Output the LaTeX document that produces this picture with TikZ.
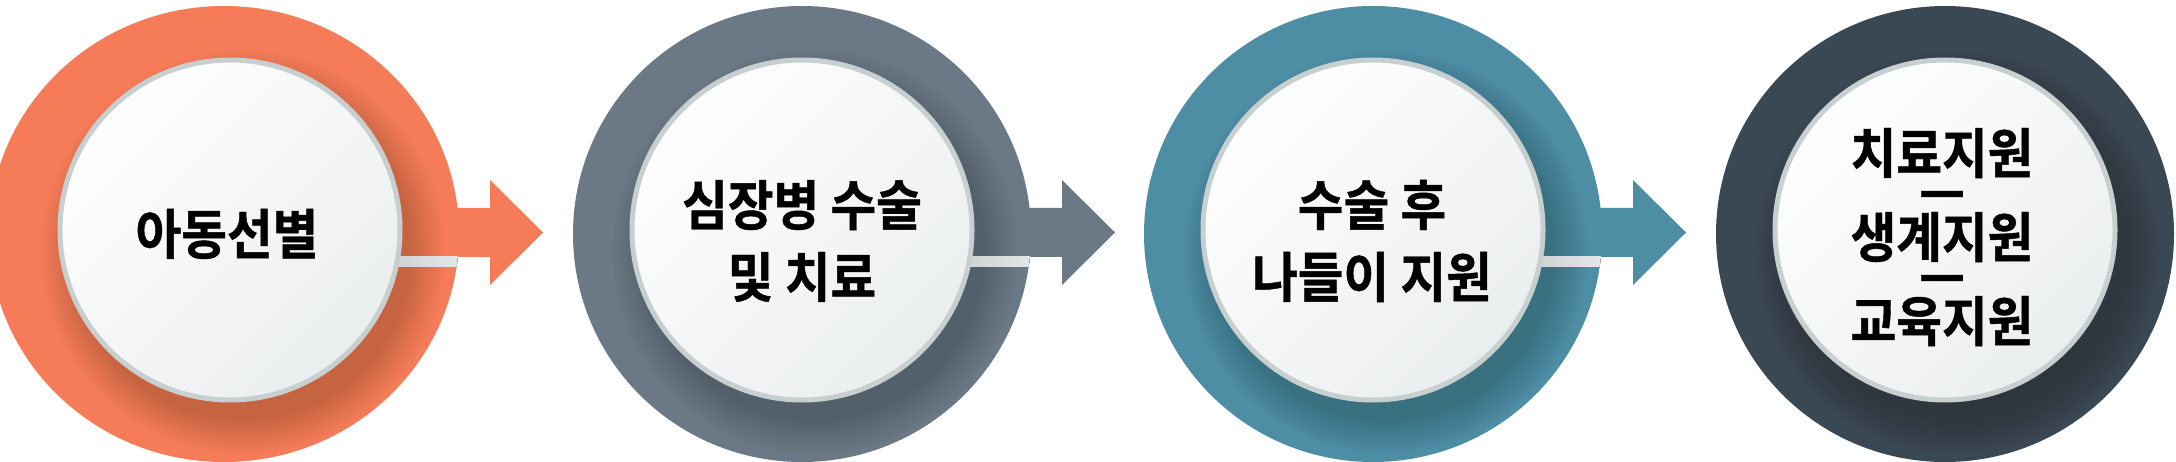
\documentclass[tikz,border=0pt]{standalone}
\usepackage{fontspec}
\newfontfamily\krbold{Noto Sans CJK KR Bold}[FakeStretch=0.92, FakeBold=0.8]
\definecolor{ringA}{RGB}{246,124,89}
\definecolor{ringB}{RGB}{107,120,133}
\definecolor{ringC}{RGB}{78,142,165}
\definecolor{ringD}{RGB}{58,72,84}
\definecolor{discA}{RGB}{254,254,254}
\definecolor{discB}{RGB}{235,238,239}
\definecolor{discrim}{RGB}{200,207,208}
\definecolor{stripA}{RGB}{198,203,204}
\definecolor{stripB}{RGB}{238,240,240}
\newcommand\tightlines{\lineskiplimit=-1000pt\relax\lineskip=0pt\relax}
\tikzset{
  disc/.style={circle, inner sep=0pt, minimum size=340pt, draw=discrim,
    line width=5pt, top color=discA, bottom color=discB, shading angle=45},
  stagetext/.style={align=center, text=black, inner sep=0pt,
    font=\krbold\fontsize{54}{72}\selectfont},
  stagetight/.style={font={\krbold\fontsize{54}{42}\selectfont\tightlines}},
  ringshadow/.style={fill=black, opacity=0.017},
  gapstrip/.style={left color=stripA, right color=stripB},
}
\newcommand\stageback[4]{% #1 colour, #2 outer centre x offset, #3 outer x radius, #4 arrow yes(1)/no(0)
  \fill[#1] (#2,4) ellipse [x radius=#3, y radius=228];
  \ifnum#4=1
    \fill[#1] (0,-22) -- (260,-22) -- (260,-50) -- (313,2.5) -- (260,55) -- (260,27) -- (0,27) -- cycle;
  \fi
  \begin{scope}
    \clip (#2,4) ellipse [x radius=#3, y radius=228];
    \foreach \k in {1,...,12} \fill[ringshadow] (13,22) circle [radius=166+3*\k];
    \ifnum#4=1
      \fill[gapstrip] (140,27) rectangle (260,37);
    \fi
  \end{scope}
}
\begin{document}
\begin{tikzpicture}[x=1pt,y=-1pt]
\useasboundingbox (0,0) rectangle (2176,462);
\fill[white] (0,0) rectangle (2176,462);

\begin{scope}[shift={(230,230)}]
  \stageback{ringA}{-6}{235}{1}
  \node[disc] (disc1) at (0,0) {};
  \node[stagetext] (label1) at (-3,4) {아동선별};
\end{scope}

\begin{scope}[shift={(802,230)}]
  \stageback{ringB}{0}{229}{1}
  \node[disc] (disc2) at (0,0) {};
  \node[stagetext] (label2) at (0,11) {심장병 수술\\및 치료};
\end{scope}

\begin{scope}[shift={(1373,230)}]
  \stageback{ringC}{0}{229}{1}
  \node[disc] (disc3) at (0,0) {};
  \node[stagetext] (label3) at (-1,11) {수술 후\\나들이 지원};
\end{scope}

\begin{scope}[shift={(1945,230)}]
  \stageback{ringD}{0}{229}{0}
  \node[disc] (disc4) at (0,0) {};
  \node[stagetext, stagetight] (label4) at (-3,7) {치료지원\\ㅡ\\생계지원\\ㅡ\\교육지원};
\end{scope}
\end{tikzpicture}
\end{document}
